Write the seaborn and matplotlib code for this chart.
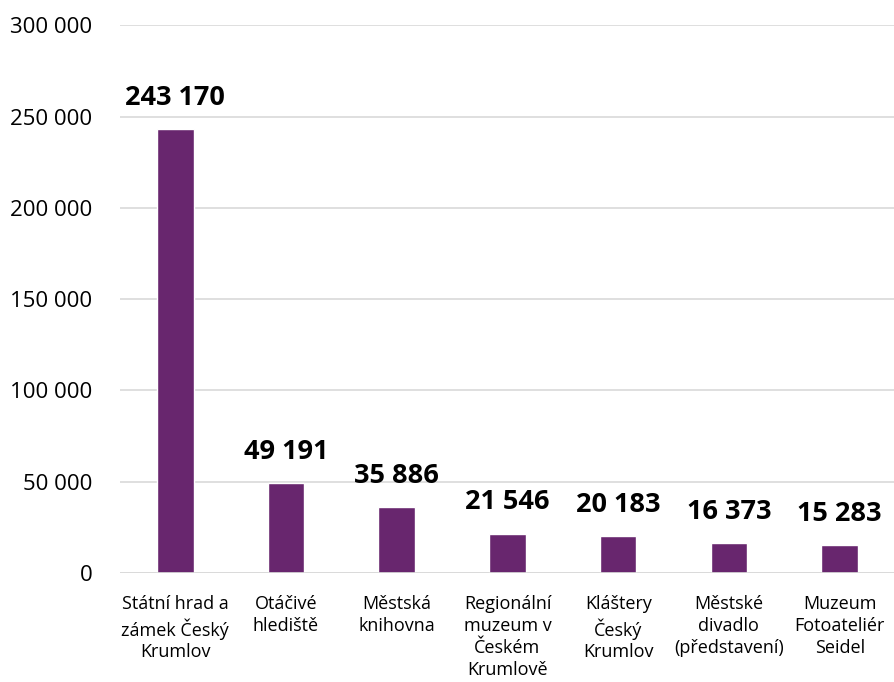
import matplotlib
matplotlib.use("Agg")
import matplotlib.pyplot as plt
import seaborn as sns
import pandas as pd
from matplotlib.ticker import FuncFormatter

categories = [
    "Státní hrad a\nzámek Český\nKrumlov",
    "Otáčivé\nhlediště",
    "Městská\nknihovna",
    "Regionální\nmuzeum v\nČeském\nKrumlově",
    "Kláštery\nČeský\nKrumlov",
    "Městské\ndivadlo\n(představení)",
    "Muzeum\nFotoateliér\nSeidel",
]
visitors = [243170, 49191, 35886, 21546, 20183, 16373, 15283]
bar_color = "#68266E"

sns.set_theme(style="white")
plt.rcParams['font.family'] = ['Open Sans', 'DejaVu Sans']

df = pd.DataFrame({"cat": categories, "val": visitors})

fig = plt.figure(figsize=(8.95, 6.82), dpi=100)
ax = fig.add_axes([0.134, 0.16, 0.866, 0.803])
sns.barplot(data=df, x="cat", y="val", color=bar_color, width=0.33,
            saturation=1, ax=ax, zorder=3)

ax.set_ylim(0, 300000)
ax.set_yticks(range(0, 300001, 50000))
ax.yaxis.set_major_formatter(FuncFormatter(lambda v, p: f"{int(v):,}".replace(",", " ")))
ax.grid(axis="y", color="#D9D9D9", linewidth=1.2, zorder=0)
for s in ["top", "right", "left", "bottom"]:
    ax.spines[s].set_visible(False)
ax.axhline(0, color="#D9D9D9", linewidth=1.2, zorder=4)

ax.set_xlabel("")
ax.set_ylabel("")
ax.tick_params(axis="y", labelsize=16, colors="#000000", pad=20, length=0)
ax.tick_params(axis="x", labelsize=13, colors="#000000", pad=16, length=0)
for lbl in ax.get_xticklabels():
    lbl.set_linespacing(1.28)

for i, v in enumerate(visitors):
    ax.text(i, v + 10000, f"{v:,}".replace(",", " "), ha="center", va="bottom",
            fontsize=19.5, fontweight="bold", color="#000000")

fig.savefig("out.png", dpi=100)
